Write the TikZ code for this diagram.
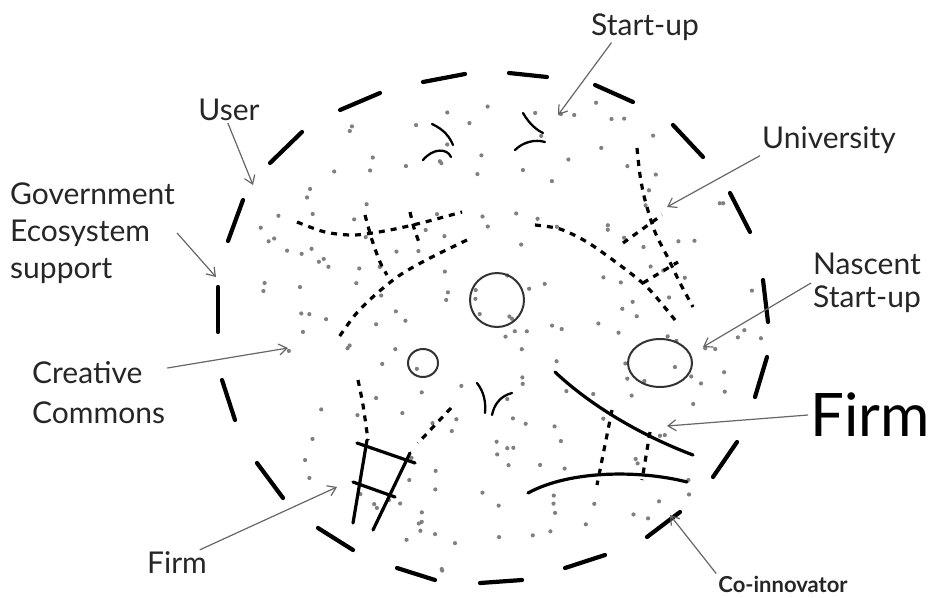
\documentclass[tikz,border=0pt]{standalone}
\usepackage{fontspec}
\setmainfont{Lato}
\usetikzlibrary{arrows.meta,shapes.geometric}
\begin{document}
\begin{tikzpicture}[x=1pt,y=-1pt,
  edash/.style={line width=4.2pt,line cap=round},
  sol/.style={line width=3.2pt,line cap=round},
  sdash/.style={line width=3.2pt,dash pattern=on 6pt off 6pt},
  arc/.style={line width=2.3pt,line cap=round},
  ring/.style={draw=black!80,line width=2pt,inner sep=0pt},
  arr/.style={draw=black!60,line width=1.2pt,-{Straight Barb[length=8pt,width=11pt]}},
  lbl/.style={font=\fontsize{30}{37}\selectfont,text=black!85,inner sep=2pt},
  dotc/.style={fill=black!50}]
\useasboundingbox (0,0) rectangle (936,597);
% scattered dots
\pgfmathsetseed{11}
\foreach \i in {1,...,200}{
  \pgfmathsetmacro\ang{rnd*360}
  \pgfmathsetmacro\rad{sqrt(rnd)*0.97}
  \fill[dotc] ({494+276*\rad*cos(\ang)},{329+256*\rad*sin(\ang)}) circle (2.1);
}
% outer dashed boundary
\draw[edash] (218,287)--(218,332);
\draw[edash] (228,241)--(243,200);
\draw[edash] (270,163)--(302,132);
\draw[edash] (340,110)--(380,93);
\draw[edash] (423,82)--(465,74);
\draw[edash] (509,73)--(547,77);
\draw[edash] (595,85)--(633,102);
\draw[edash] (673,125)--(703,157);
\draw[edash] (730,193)--(750,232);
\draw[edash] (763,280)--(768,322);
\draw[edash] (755,397)--(767,357);
\draw[edash] (713,477)--(737,442);
\draw[edash] (647,537)--(680,512);
\draw[edash] (565,568)--(605,555);
\draw[edash] (480,583)--(522,580);
\draw[edash] (397,568)--(435,580);
\draw[edash] (318,528)--(353,550);
\draw[edash] (257,463)--(283,498);
\draw[edash] (222,380)--(235,420);
% inner dashed lines
\draw[sdash] plot[smooth] coordinates {(297,222) (325,232) (355,235) (390,230) (425,222) (462,212)};
\draw[sdash] plot[smooth] coordinates {(365,215) (372,240) (380,262) (387,275)};
\draw[sdash] plot[smooth] coordinates {(410,212) (414,228) (420,245)};
\draw[sdash] plot[smooth] coordinates {(467,240) (430,258) (400,275) (375,295) (355,315) (337,340)};
\draw[sdash] plot[smooth] coordinates {(535,225) (560,229) (587,242) (617,263) (647,287) (675,320)};
\draw[sdash] plot[smooth] coordinates {(637,148) (640,175) (645,200) (655,232) (668,258) (680,283) (693,307)};
\draw[sdash] (623,243)--(662,215);
\draw[sdash] (643,283)--(678,262);
\draw[sdash] plot[smooth] coordinates {(358,380) (363,405) (368,440)};
\draw[sdash] plot[smooth] coordinates {(451,408) (435,425) (418,443)};
\draw[sdash] (612,410)--(597,485);
\draw[sdash] (650,432)--(642,480);
% ladder
\draw[sol] (367,440)--(353,523);
\draw[sol] (410,453)--(373,530);
\draw[sol] (357,443)--(415,463);
\draw[sol] (353,482)--(395,497);
% solid arcs lower right
\draw[sol] (555,372) .. controls (590,405) and (640,435) .. (693,455);
\draw[sol] (528,493) .. controls (570,470) and (640,470) .. (687,482);
% small arcs
\draw[arc] (432,124) .. controls (445,130) and (450,138) .. (453,145);
\draw[arc] (423,160) .. controls (433,148) and (447,148) .. (451,157);
\draw[arc] (523,113) .. controls (530,125) and (537,130) .. (543,133);
\draw[arc] (515,150) .. controls (523,142) and (535,139) .. (545,142);
\draw[arc] (477,383) .. controls (484,392) and (486,402) .. (485,413);
\draw[arc] (512,393) .. controls (500,396) and (494,405) .. (492,415);
% circles
\node[ring,circle,minimum size=54pt] (bigc) at (497,300) {};
\node[ring,ellipse,minimum width=30pt,minimum height=28pt] (smallc) at (423,363) {};
\node[ring,ellipse,minimum width=64pt,minimum height=48pt] (nasc) at (660,363) {};
% labels
\node[lbl] (su) at (645,27) {Start-up};
\node[lbl] (user) at (229,110) {User};
\node[lbl] (uni) at (829,140) {University};
\node[lbl,align=left,anchor=west] (gov) at (8,233) {Government\\Ecosystem\\support};
\node[lbl,align=left,anchor=west,font=\fontsize{30}{40}\selectfont] (cc) at (30,393) {Creative\\Commons};
\node[lbl,align=left,anchor=west,font=\fontsize{30}{33}\selectfont] (nas) at (811,283) {Nascent\\Start-up};
\node[lbl,font=\fontsize{60}{62}\selectfont,text=black] (firm) at (870,415) {Firm};
\node[lbl] (firm2) at (177,563) {Firm};
\node[lbl,font=\fontsize{22}{24}\selectfont\bfseries] (coin) at (783,584) {Co-innovator};
% targets
\coordinate (tSU) at (558,115);
\coordinate (tUser) at (253,185);
\coordinate (tUni) at (667,207);
\coordinate (tGov) at (216,277);
\coordinate (tCC) at (288,348);
\coordinate (tNas) at (703,347);
\coordinate (tFirm) at (667,426);
\coordinate (tFirm2) at (337,487);
\coordinate (tCo) at (670,515);
% arrows
\draw[arr] (su.205) -- (tSU);
\draw[arr] (user.265) -- (tUser);
\draw[arr] (uni.south west) -- (tUni);
\draw[arr] (gov.east) -- (tGov);
\draw[arr] (cc.20) -- (tCC);
\draw[arr] (nas.west) -- (tNas);
\draw[arr] (firm.west) -- (tFirm);
\draw[arr] (firm2.30) -- (tFirm2);
\draw[arr] (coin.north west) -- (tCo);
\end{tikzpicture}
\end{document}
